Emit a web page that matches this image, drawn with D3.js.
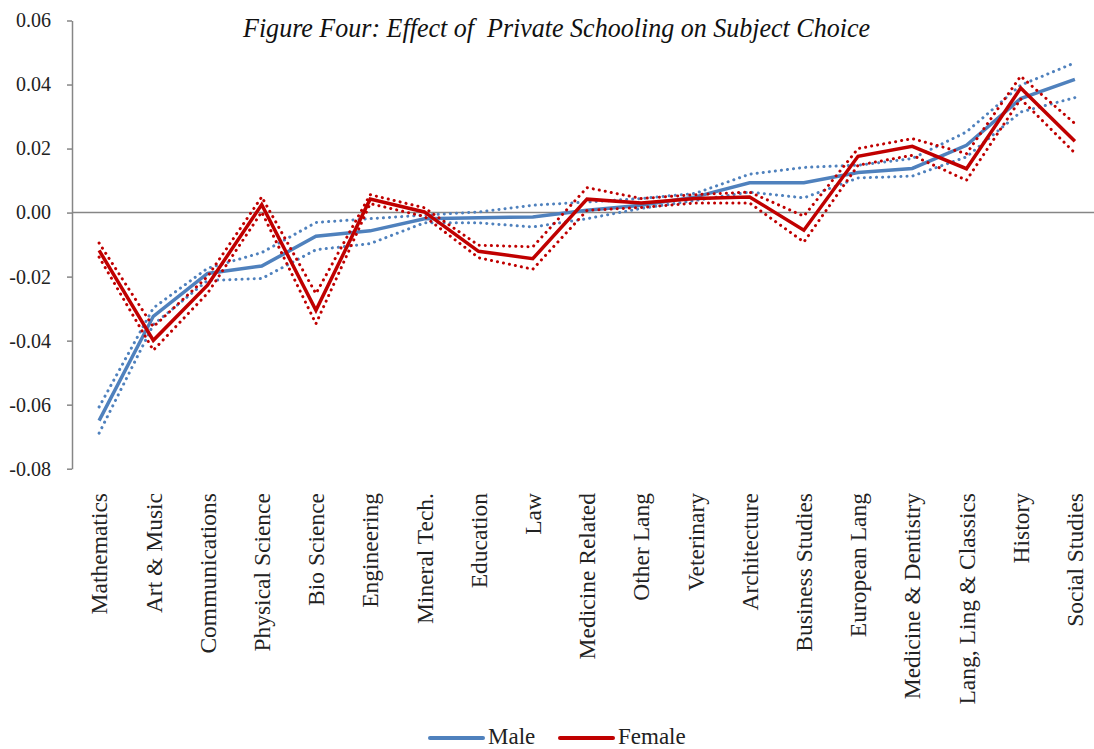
<!DOCTYPE html>
<html>
<head>
<meta charset="utf-8">
<script src="https://cdn.jsdelivr.net/npm/d3@7"></script>
<style>
  body { margin: 0; background: #fff; }
  svg { display: block; }
  svg text { font-family: "Liberation Serif", "Times New Roman", serif; }
</style>
</head>
<body>
<svg id="chart" width="1094" height="749"></svg>
<script>
'use strict';

// categories along the x axis
const subjects = ["Mathematics", "Art & Music", "Communications", "Physical Science", "Bio Science",
  "Engineering", "Mineral Tech.", "Education", "Law", "Medicine Related", "Other Lang", "Veterinary",
  "Architecture", "Business Studies", "European Lang", "Medicine & Dentistry", "Lang, Ling & Classics",
  "History", "Social Studies"];

// male estimate with upper / lower bounds
const maleEst   = [-0.0650, -0.0324, -0.0190, -0.0167, -0.0074, -0.0057, -0.0019, -0.0016, -0.0014, 0.0007,
  0.0023, 0.0049, 0.0093, 0.0093, 0.0125, 0.0138, 0.0210, 0.0356, 0.0416];
const maleHigh  = [-0.0607, -0.0298, -0.0174, -0.0125, -0.0031, -0.0019, -0.0008, 0.0002, 0.0023, 0.0033,
  0.0044, 0.0060, 0.0120, 0.0141, 0.0148, 0.0169, 0.0252, 0.0398, 0.0468];
const maleLow   = [-0.0689, -0.0350, -0.0212, -0.0206, -0.0116, -0.0097, -0.0032, -0.0032, -0.0045, -0.0019,
  0.0013, 0.0038, 0.0064, 0.0046, 0.0108, 0.0114, 0.0174, 0.0314, 0.0359];

// female estimate with upper / lower bounds
const femaleEst  = [-0.0118, -0.0399, -0.0227, 0.0025, -0.0305, 0.0042, 0.0002, -0.0121, -0.0144, 0.0042,
  0.0030, 0.0044, 0.0049, -0.0055, 0.0176, 0.0207, 0.0137, 0.0389, 0.0223];
const femaleHigh = [-0.0095, -0.0357, -0.0200, 0.0049, -0.0253, 0.0056, 0.0015, -0.0102, -0.0107, 0.0078,
  0.0044, 0.0056, 0.0064, -0.0011, 0.0200, 0.0231, 0.0184, 0.0426, 0.0278];
const femaleLow  = [-0.0139, -0.0430, -0.0252, 0.0002, -0.0347, 0.0028, -0.0012, -0.0141, -0.0177, 0.0007,
  0.0016, 0.0030, 0.0030, -0.0092, 0.0148, 0.0179, 0.0101, 0.0355, 0.0186];

const yTicks = [-0.08, -0.06, -0.04, -0.02, 0.00, 0.02, 0.04, 0.06];
const yTickLabels = ["-0.08", "-0.06", "-0.04", "-0.02", "0.00", "0.02", "0.04", "0.06"];

const title = "Figure Four: Effect of  Private Schooling on Subject Choice";
const legendNames = ["Male", "Female"];

const blue = "#4F81BD", red = "#C00000", grey = "#868686";

const svg = d3.select("#chart");

const x = d3.scalePoint().domain(subjects).range([72, 1102]).padding(0.5);
const y = d3.scaleLinear().domain([-0.08, 0.06]).range([468.7, 20.5]);

// y axis
const yAxis = svg.append("g")
  .attr("transform", "translate(72,0)")
  .call(d3.axisLeft(y).tickValues(yTicks)
    .tickFormat((d, i) => yTickLabels[i])
    .tickSize(5).tickSizeOuter(0).tickPadding(16));
yAxis.attr("font-family", null).attr("font-size", null);
yAxis.select(".domain").attr("stroke", grey).attr("stroke-width", 1.5);
yAxis.selectAll(".tick line").attr("stroke", grey).attr("stroke-width", 1.5);
yAxis.selectAll(".tick text")
  .style("font-size", "20px").attr("fill", "#222");

// zero line acting as category axis
svg.append("line")
  .attr("x1", 72).attr("x2", 1102)
  .attr("y1", y(0)).attr("y2", y(0))
  .attr("stroke", grey).attr("stroke-width", 1.5);

// category labels
svg.append("g").selectAll("text")
  .data(subjects)
  .join("text")
  .attr("transform", d => `translate(${x(d)},493) rotate(-90)`)
  .attr("text-anchor", "end")
  .attr("dy", "0.35em")
  .style("font-size", "23.5px")
  .attr("fill", "#222")
  .text(d => d);

const line = d3.line()
  .x((d, i) => x(subjects[i]))
  .y(d => y(d));

function drawSeries(est, hi, lo, color) {
  [hi, lo].forEach(vals => {
    svg.append("path")
      .attr("d", line(vals))
      .attr("fill", "none")
      .attr("stroke", color)
      .attr("stroke-width", 3)
      .attr("stroke-linecap", "round")
      .attr("stroke-dasharray", "0.1 6");
  });
  svg.append("path")
    .attr("d", line(est))
    .attr("fill", "none")
    .attr("stroke", color)
    .attr("stroke-width", 3.5)
    .attr("stroke-linejoin", "miter");
}

drawSeries(maleEst, maleHigh, maleLow, blue);
drawSeries(femaleEst, femaleHigh, femaleLow, red);

// title
svg.append("text")
  .attr("x", 243).attr("y", 37)
  .style("font-size", "28px")
  .style("font-style", "italic")
  .style("white-space", "pre")
  .attr("textLength", 627)
  .attr("lengthAdjust", "spacingAndGlyphs")
  .attr("fill", "#111")
  .text(title);

// legend
const legend = svg.append("g");
const legendX = [430, 560];
const legendColors = [blue, red];
legendNames.forEach((name, i) => {
  legend.append("line")
    .attr("x1", legendX[i]).attr("x2", legendX[i] + 53)
    .attr("y1", 738).attr("y2", 738)
    .attr("stroke", legendColors[i]).attr("stroke-width", 4)
    .attr("stroke-linecap", "round");
  legend.append("text")
    .attr("x", legendX[i] + 58).attr("y", 744)
    .style("font-size", "23px")
    .attr("fill", "#222")
    .text(name);
});
</script>
</body>
</html>
